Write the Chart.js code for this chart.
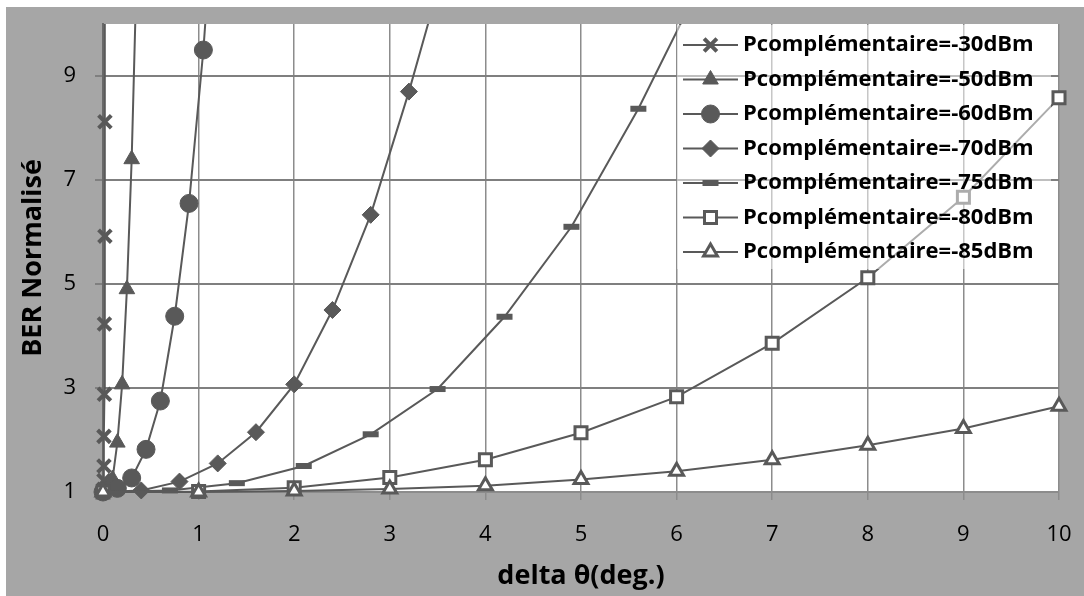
<!DOCTYPE html>
<html>
<head>
<meta charset="utf-8">
<script src="https://cdn.jsdelivr.net/npm/chart.js@4.4.1/dist/chart.umd.min.js"></script>
<style>
  html, body { margin: 0; padding: 0; background: #ffffff; }
  #wrap { position: absolute; left: 6px; top: 7px; width: 1078px; height: 589px; background: #a6a6a6; }
</style>
</head>
<body>
<div id="wrap"><canvas id="berChart" width="1078" height="589"></canvas></div>
<script>
// ---------------- data ----------------
const seriesLabels = [
  "Pcomplémentaire=-30dBm",
  "Pcomplémentaire=-50dBm",
  "Pcomplémentaire=-60dBm",
  "Pcomplémentaire=-70dBm",
  "Pcomplémentaire=-75dBm",
  "Pcomplémentaire=-80dBm",
  "Pcomplémentaire=-85dBm"
];

const p30x = [0, 0.005, 0.01, 0.01, 0.01, 0.015, 0.015, 0.02, 0.02, 0.02];
const p30y = [1.0, 1.05, 1.22, 1.5, 2.07, 2.88, 4.23, 5.92, 8.12, 11.3];

const p50x = [0, 0.05, 0.1, 0.15, 0.2, 0.25, 0.3, 0.35];
const p50y = [1.0, 1.05, 1.25, 1.95, 3.07, 4.9, 7.4, 10.9];

const p60x = [0, 0.15, 0.3, 0.45, 0.6, 0.75, 0.9, 1.05, 1.2];
const p60y = [1.0, 1.07, 1.27, 1.82, 2.75, 4.38, 6.55, 9.5, 13.4];

const p70x = [0, 0.4, 0.8, 1.2, 1.6, 2.0, 2.4, 2.8, 3.2, 3.6];
const p70y = [1.0, 1.03, 1.2, 1.55, 2.15, 3.07, 4.5, 6.33, 8.7, 11.3];

const p75x = [0, 0.7, 1.4, 2.1, 2.8, 3.5, 4.2, 4.9, 5.6, 6.3];
const p75y = [1.0, 1.03, 1.17, 1.5, 2.11, 2.98, 4.37, 6.1, 8.37, 10.96];

const p80x = [0, 1, 2, 3, 4, 5, 6, 7, 8, 9, 10];
const p80y = [1.0, 1.01, 1.08, 1.28, 1.62, 2.14, 2.83, 3.86, 5.12, 6.67, 8.58];

const p85x = [0, 1, 2, 3, 4, 5, 6, 7, 8, 9, 10];
const p85y = [1.0, 1.0, 1.02, 1.06, 1.12, 1.24, 1.4, 1.62, 1.9, 2.22, 2.65];

const yTickValues = [1, 3, 5, 7, 9];
const xTitle = "delta θ(deg.)";
const yTitle = "BER Normalisé";

// ---------------- styling ----------------
const dark = "#595959";
const markerStyles = [
  { pointStyle: "crossRot", radius: 9, fill: dark, borderWidth: 4 },
  { pointStyle: "triangle", radius: 9, fill: dark, borderWidth: 1 },
  { pointStyle: "circle", radius: 9, fill: dark, borderWidth: 1 },
  { pointStyle: "rectRot", radius: 8.5, fill: dark, borderWidth: 1 },
  { pointStyle: "line", radius: 8, fill: dark, borderWidth: 6 },
  { pointStyle: "rect", radius: 8.5, fill: "#ffffff", borderWidth: 3 },
  { pointStyle: "triangle", radius: 8, fill: "#ffffff", borderWidth: 3 }
];

function toPoints(xs, ys) {
  return xs.map((x, i) => ({ x: x, y: ys[i] }));
}

const allX = [p30x, p50x, p60x, p70x, p75x, p80x, p85x];
const allY = [p30y, p50y, p60y, p70y, p75y, p80y, p85y];

const datasets = seriesLabels.map((label, i) => ({
  label: label,
  data: toPoints(allX[i], allY[i]),
  borderColor: dark,
  borderWidth: 2,
  pointStyle: markerStyles[i].pointStyle,
  pointRadius: markerStyles[i].radius,
  pointHoverRadius: markerStyles[i].radius,
  pointBackgroundColor: markerStyles[i].fill,
  pointBorderColor: dark,
  pointBorderWidth: markerStyles[i].borderWidth,
  order: seriesLabels.length - i,
  clip: { left: 20, right: 20, top: 0, bottom: 20 },
  tension: 0
}));

// white plot area
const plotBackground = {
  id: "plotBackground",
  beforeDraw(chart) {
    const { ctx, chartArea } = chart;
    ctx.save();
    ctx.fillStyle = "#ffffff";
    ctx.fillRect(chartArea.left, chartArea.top, chartArea.right - chartArea.left, chartArea.bottom - chartArea.top);
    ctx.restore();
  }
};

// legend drawn inside the plot, at the top right
const insideLegend = {
  id: "insideLegend",
  afterDatasetsDraw(chart) {
    const ctx = chart.ctx;
    const area = chart.chartArea;
    const boxLeft = 671, boxTop = area.top + 1, boxRight = 1045, boxBottom = 262;
    const lineX0 = 677, lineX1 = 732, textX = 737;
    const rowY0 = 38, rowStep = 34.5;
    ctx.save();
    ctx.fillStyle = "rgba(255,255,255,0.5)";
    ctx.fillRect(boxLeft, boxTop, boxRight - boxLeft, boxBottom - boxTop);
    chart.data.datasets.forEach((ds, i) => {
      const y = rowY0 + i * rowStep;
      ctx.strokeStyle = ds.borderColor;
      ctx.lineWidth = 2;
      ctx.beginPath();
      ctx.moveTo(lineX0, y);
      ctx.lineTo(lineX1, y);
      ctx.stroke();
      ctx.fillStyle = ds.pointBackgroundColor;
      ctx.strokeStyle = ds.pointBorderColor;
      ctx.lineWidth = ds.pointBorderWidth;
      Chart.helpers.drawPoint(ctx, {
        pointStyle: ds.pointStyle,
        radius: ds.pointRadius,
        rotation: 0,
        borderWidth: ds.pointBorderWidth
      }, (lineX0 + lineX1) / 2, y);
      ctx.fillStyle = "#000000";
      ctx.font = "bold 22px 'Open Sans'";
      ctx.textBaseline = "middle";
      ctx.textAlign = "left";
      ctx.fillText(ds.label, textX, y);
    });
    ctx.restore();
  }
};

new Chart(document.getElementById("berChart"), {
  type: "line",
  data: { datasets: datasets },
  options: {
    responsive: false,
    animation: false,
    events: [],
    layout: { padding: { left: 0, top: 17, right: 25, bottom: 0 } },
    plugins: {
      legend: { display: false },
      tooltip: { enabled: false }
    },
    scales: {
      x: {
        type: "linear",
        min: 0,
        max: 10,
        afterFit(scale) {
          scale.height = 104;
          scale.paddingLeft = 0;
          scale.paddingRight = 0;
        },
        ticks: {
          stepSize: 1,
          padding: 22,
          color: "#000000",
          font: { family: "'Open Sans'", size: 22 }
        },
        grid: {
          color: "#8c8c8c",
          lineWidth: 1.5,
          tickLength: 8,
          tickColor: "#8c8c8c"
        },
        border: { color: "#8c8c8c", width: 2 },
        title: {
          display: true,
          text: xTitle,
          color: "#000000",
          font: { family: "'Open Sans'", size: 27, weight: "bold" },
          padding: { top: 0, bottom: 3 }
        }
      },
      y: {
        type: "linear",
        min: 1,
        max: 10,
        afterFit(scale) {
          scale.width = 97;
          scale.paddingTop = 0;
          scale.paddingBottom = 0;
        },
        afterBuildTicks(scale) {
          scale.ticks = yTickValues.map(v => ({ value: v }));
        },
        ticks: {
          padding: 19,
          color: "#000000",
          font: { family: "'Open Sans'", size: 22 }
        },
        grid: {
          color: "#7f7f7f",
          lineWidth: 2,
          tickLength: 8,
          tickColor: "#7f7f7f"
        },
        border: { color: "#6a6a6a", width: 2 },
        title: {
          display: true,
          text: yTitle,
          color: "#000000",
          font: { family: "'Open Sans'", size: 27, weight: "bold" },
          padding: { top: 11, bottom: 0 }
        }
      }
    }
  },
  plugins: [plotBackground, insideLegend]
});
</script>
</body>
</html>
